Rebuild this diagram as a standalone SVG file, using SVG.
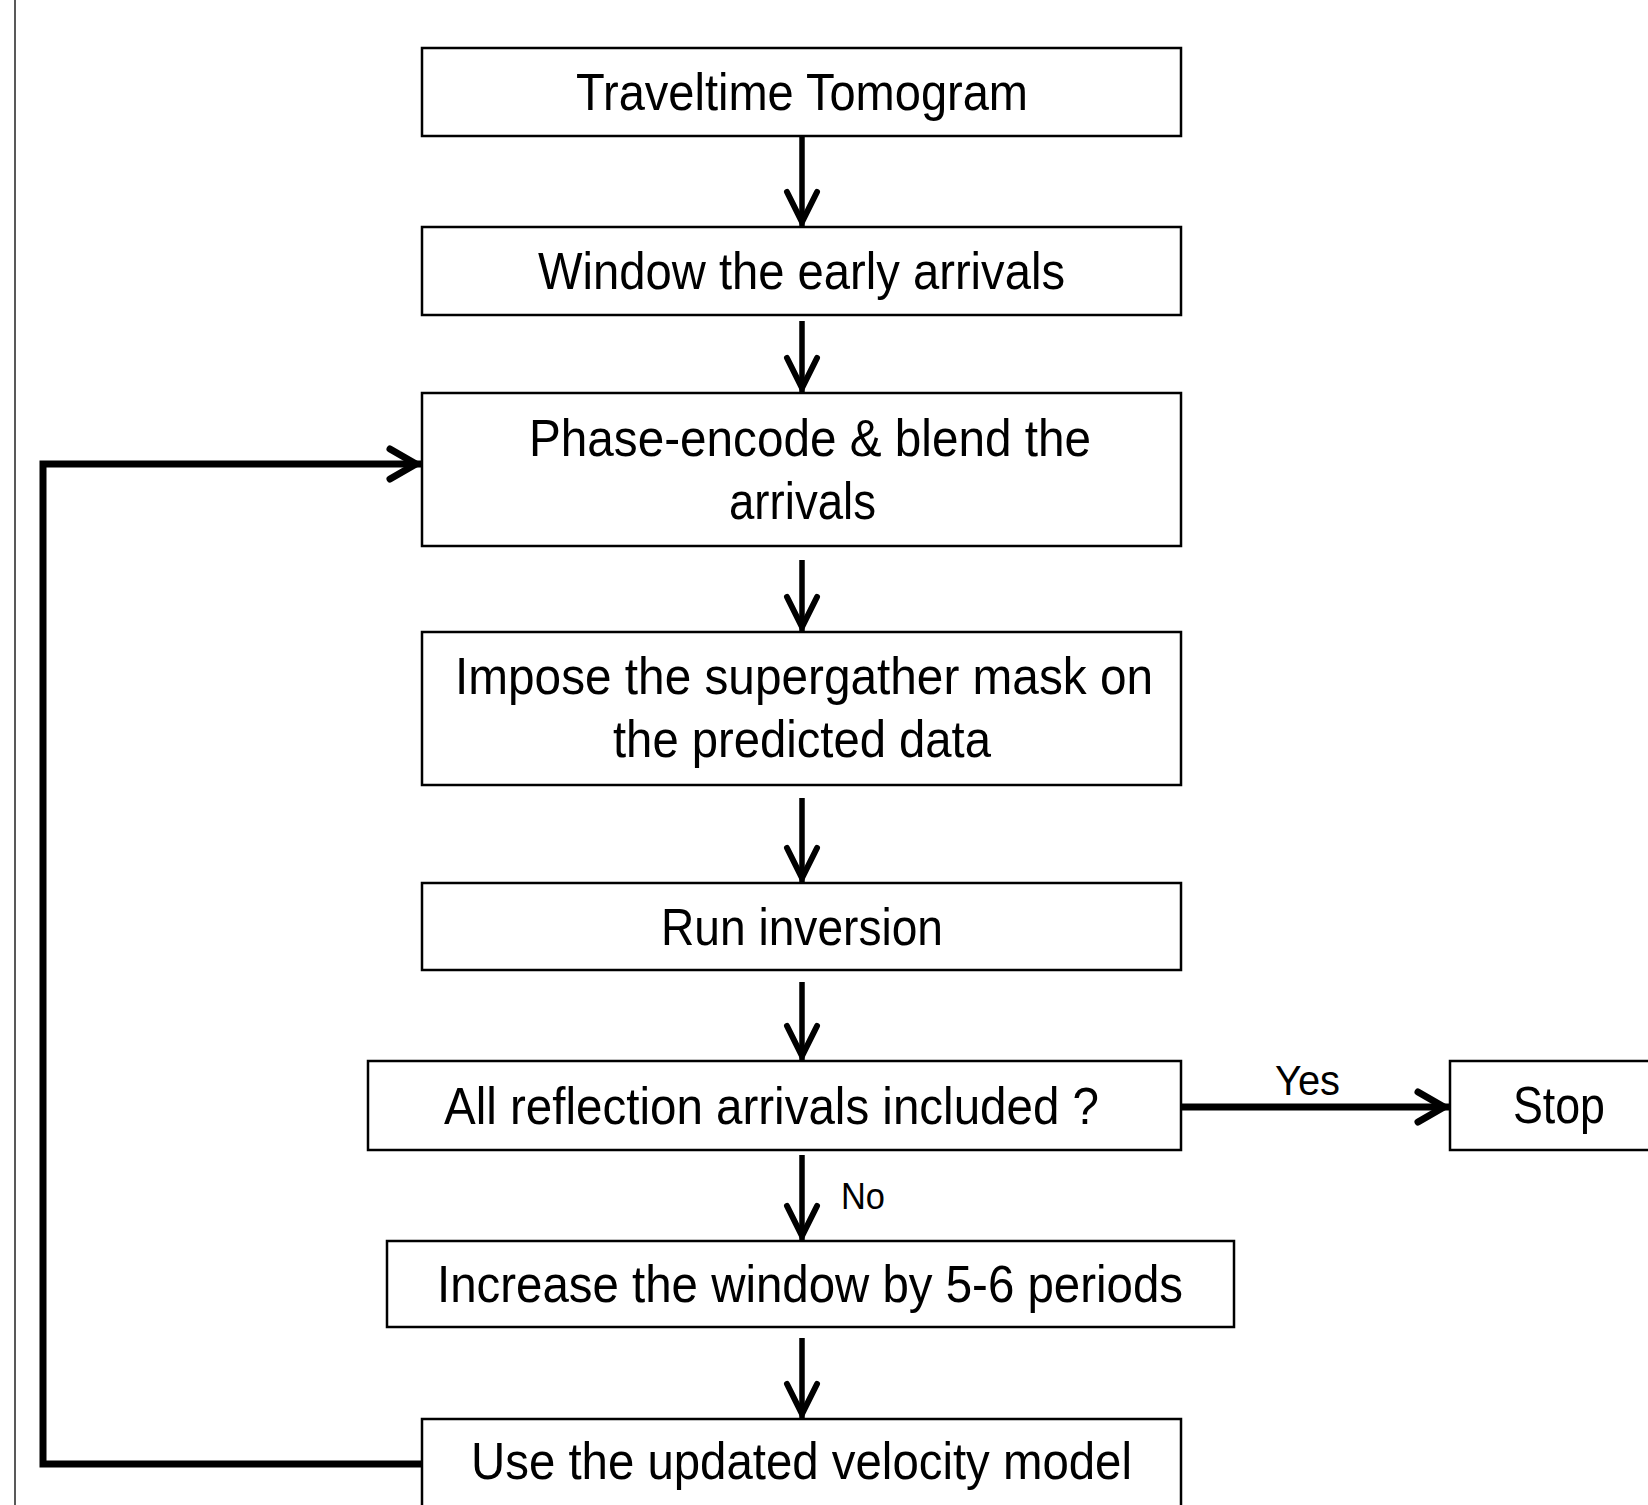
<svg xmlns="http://www.w3.org/2000/svg" width="1648" height="1505" viewBox="0 0 1648 1505">
<style>
.box{fill:#fff;stroke:#000;stroke-width:2.5}
.t{font-family:"Liberation Sans",Arial,sans-serif;font-size:52px;fill:#000}
.lbl{font-family:"Liberation Sans",Arial,sans-serif;fill:#000}
.v{stroke:#000;stroke-width:5.5;fill:none}
.h{stroke:#000;stroke-width:7;fill:none}
</style>
<defs>
<marker id="arrV" markerUnits="userSpaceOnUse" orient="auto" refX="0" refY="0" markerWidth="80" markerHeight="80" overflow="visible">
<path d="M-35,-15 L-5,0 L-35,15" fill="none" stroke="#000" stroke-width="6" stroke-linecap="round" stroke-linejoin="miter"/>
</marker>
<marker id="arrH" markerUnits="userSpaceOnUse" orient="auto" refX="0" refY="0" markerWidth="80" markerHeight="80" overflow="visible">
<path d="M-32,-15 L-6,0 L-32,15" fill="none" stroke="#000" stroke-width="7" stroke-linecap="round" stroke-linejoin="miter"/>
</marker>
</defs>
<rect width="1648" height="1505" fill="#fff"/>
<line x1="15" y1="0" x2="15" y2="1505" stroke="#222" stroke-width="1.5"/>
<g id="connectors">
<line class="v" x1="802" y1="136" x2="802" y2="227" marker-end="url(#arrV)"/>
<line class="v" x1="802" y1="321" x2="802" y2="393" marker-end="url(#arrV)"/>
<line class="v" x1="802" y1="560" x2="802" y2="632" marker-end="url(#arrV)"/>
<line class="v" x1="802" y1="798" x2="802" y2="883" marker-end="url(#arrV)"/>
<line class="v" x1="802" y1="982" x2="802" y2="1061" marker-end="url(#arrV)"/>
<line class="v" x1="802" y1="1155" x2="802" y2="1241" marker-end="url(#arrV)"/>
<line class="v" x1="802" y1="1338" x2="802" y2="1419" marker-end="url(#arrV)"/>
<line class="h" x1="1181" y1="1107" x2="1450" y2="1107" marker-end="url(#arrH)"/>
<path class="h" d="M422,1464 L43,1464 L43,464 L422,464" stroke-linejoin="miter" marker-end="url(#arrH)"/>
<text class="lbl" x="1275" y="1095" font-size="43" textLength="65" lengthAdjust="spacingAndGlyphs">Yes</text>
<text class="lbl" x="841" y="1209" font-size="37" textLength="44" lengthAdjust="spacingAndGlyphs">No</text>
</g>
<g id="n1"><rect class="box" x="422" y="48" width="759" height="88"/><text class="t" x="576" y="110" textLength="452" lengthAdjust="spacingAndGlyphs">Traveltime Tomogram</text></g>
<g id="n2"><rect class="box" x="422" y="227" width="759" height="88"/><text class="t" x="538" y="289" textLength="527" lengthAdjust="spacingAndGlyphs">Window the early arrivals</text></g>
<g id="n3"><rect class="box" x="422" y="393" width="759" height="153"/><text class="t" x="529" y="456" textLength="562" lengthAdjust="spacingAndGlyphs">Phase-encode &amp; blend the</text><text class="t" x="729" y="519" textLength="147" lengthAdjust="spacingAndGlyphs">arrivals</text></g>
<g id="n4"><rect class="box" x="422" y="632" width="759" height="153"/><text class="t" x="455" y="694" textLength="698" lengthAdjust="spacingAndGlyphs">Impose the supergather mask on</text><text class="t" x="613" y="757" textLength="378" lengthAdjust="spacingAndGlyphs">the predicted data</text></g>
<g id="n5"><rect class="box" x="422" y="883" width="759" height="87"/><text class="t" x="661" y="945" textLength="282" lengthAdjust="spacingAndGlyphs">Run inversion</text></g>
<g id="n6"><rect class="box" x="368" y="1061" width="813" height="89"/><text class="t" x="444" y="1124" textLength="655" lengthAdjust="spacingAndGlyphs">All reflection arrivals included ?</text></g>
<g id="n7"><rect class="box" x="1450" y="1061" width="220" height="89"/><text class="t" x="1513" y="1123" textLength="92" lengthAdjust="spacingAndGlyphs">Stop</text></g>
<g id="n8"><rect class="box" x="387" y="1241" width="847" height="86"/><text class="t" x="437" y="1302" textLength="746" lengthAdjust="spacingAndGlyphs">Increase the window by 5-6 periods</text></g>
<g id="n9"><rect class="box" x="422" y="1419" width="759" height="110"/><text class="t" x="471" y="1479" textLength="661" lengthAdjust="spacingAndGlyphs">Use the updated velocity model</text></g>
</svg>
